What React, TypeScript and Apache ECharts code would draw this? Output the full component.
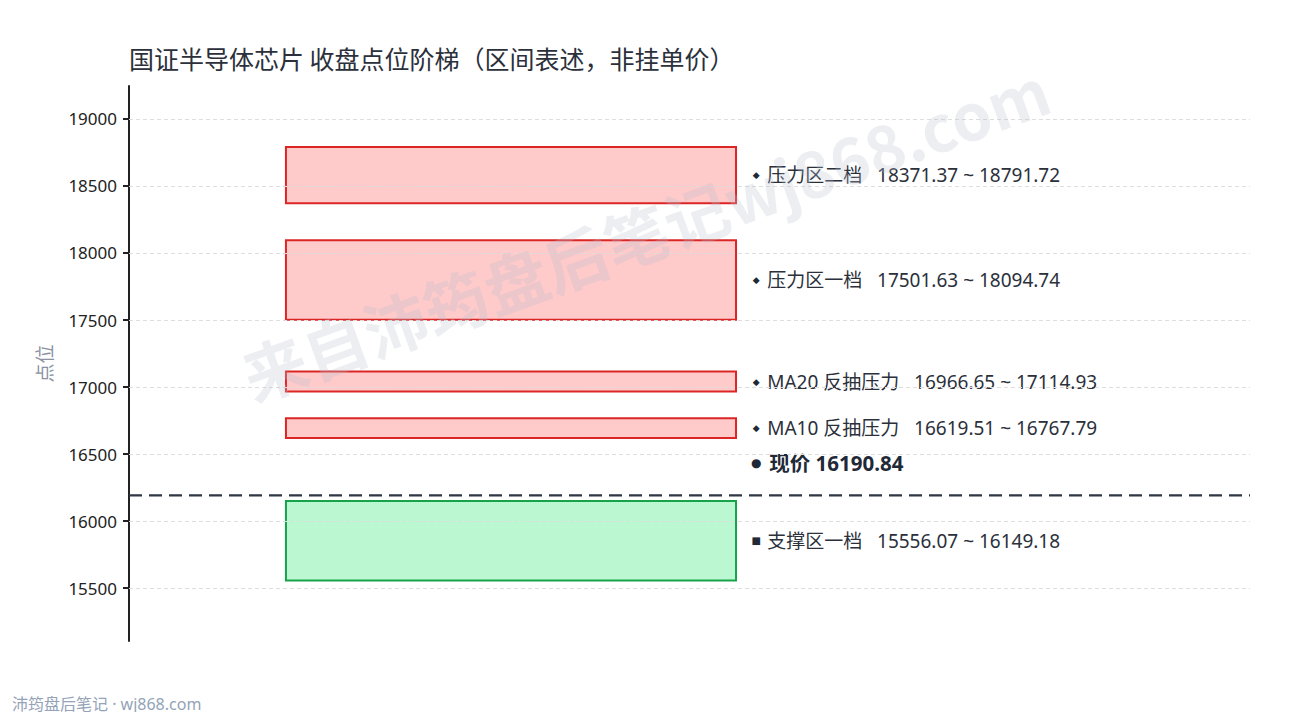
import React from 'react';
import * as echarts from 'echarts';

const zoneNames = ['压力区二档', '压力区一档', 'MA20 反抽压力', 'MA10 反抽压力', '支撑区一档'];
const zoneLow = [18371.37, 17501.63, 16966.65, 16619.51, 15556.07];
const zoneHigh = [18791.72, 18094.74, 17114.93, 16767.79, 16149.18];
const zoneKind = ['resist', 'resist', 'resist', 'resist', 'support'];
const currentPrice = 16190.84;
const tickValues = [15500, 16000, 16500, 17000, 17500, 18000, 18500, 19000];
const yMin = 15105;
const yMax = 19246;

const CJK = '"Noto Sans CJK SC", "Noto Sans", sans-serif';
const MIXED = '"Noto Sans", "Noto Sans CJK SC", sans-serif';

const App: React.FC = () => {
  const chartRef = React.useRef<HTMLDivElement>(null);

  React.useEffect(() => {
    if (!chartRef.current) return;
    const chart = echarts.init(chartRef.current, undefined, { renderer: 'svg' });

    const zoneData = zoneNames.map((name, i) => [i, zoneLow[i], zoneHigh[i]]);

    chart.setOption({
      animation: false,
      backgroundColor: '#ffffff',
      textStyle: { fontFamily: MIXED },
      title: {
        text: '国证半导体芯片 收盘点位阶梯（区间表述，非挂单价）',
        left: 124,
        top: 40,
        textStyle: { fontSize: 25, fontWeight: 'normal', color: '#2b303b', fontFamily: CJK },
      },
      grid: { left: 129, right: 40, top: 86, bottom: 79 },
      xAxis: { type: 'value', min: 0, max: 1, show: false },
      yAxis: {
        type: 'value',
        min: yMin,
        max: yMax,
        name: '点位',
        nameLocation: 'middle',
        nameGap: 76,
        nameTextStyle: { fontSize: 19, color: '#8b93a3', fontFamily: CJK },
        axisLine: { show: true, onZero: false, lineStyle: { color: '#222222', width: 2 } },
        axisTick: { show: true, length: 6, lineStyle: { color: '#222222', width: 2 }, customValues: tickValues },
        axisLabel: {
          color: '#222222',
          fontSize: 17,
          margin: 12,
          customValues: tickValues,
          fontFamily: MIXED,
          formatter: (v: number) => String(v),
        },
        splitLine: { show: false },
      },
      graphic: [
        {
          type: 'text',
          left: 12,
          top: 696,
          style: { text: '沛筠盘后笔记 · wj868.com', fill: '#94a3b8', fontSize: 16, fontFamily: MIXED },
        },
        {
          type: 'text',
          x: 645,
          y: 231,
          rotation: (20 * Math.PI) / 180,
          z: 100,
          silent: true,
          style: {
            text: '来自沛筠盘后笔记wj868.com',
            fill: 'rgba(185, 192, 208, 0.27)',
            fontSize: 64,
            fontWeight: 'bold',
            fontFamily: CJK,
            align: 'center',
            verticalAlign: 'middle',
          },
        },
      ],
      series: [
        {
          type: 'line',
          data: [],
          z: 1,
          silent: true,
          markLine: {
            symbol: 'none',
            silent: true,
            label: { show: false },
            lineStyle: { color: '#dddddd', type: [4, 3], width: 1 },
            data: tickValues.map((v) => ({ yAxis: v })),
          },
        },
        {
          type: 'custom',
          z: 3,
          data: zoneData,
          renderItem: (params: any, api: any) => {
            const i = api.value(0);
            const lo = api.value(1);
            const hi = api.value(2);
            const p1 = api.coord([0.14, hi]);
            const p2 = api.coord([0.5415, lo]);
            const support = zoneKind[i] === 'support';
            const midY = (p1[1] + p2[1]) / 2;
            const lx = api.coord([0.5595, lo])[0];
            return {
              type: 'group',
              children: [
                {
                  type: 'rect',
                  shape: { x: p1[0], y: p1[1], width: p2[0] - p1[0], height: p2[1] - p1[1] },
                  style: {
                    fill: support ? '#bbf7d0' : '#fecaca',
                    stroke: support ? '#16a34a' : '#dc2626',
                    lineWidth: 2,
                  },
                },
                {
                  type: 'text',
                  x: lx,
                  y: midY,
                  style: {
                    text: support ? '■' : '◆',
                    fontSize: support ? 10 : 9,
                    fill: '#1f2937',
                    align: 'center',
                    verticalAlign: 'middle',
                    fontFamily: 'DejaVu Sans',
                  },
                },
                {
                  type: 'text',
                  x: lx + 11,
                  y: midY,
                  style: {
                    text: `${zoneNames[i]}   ${zoneLow[i].toFixed(2)} ~ ${zoneHigh[i].toFixed(2)}`,
                    fontSize: 19,
                    fill: '#2b303b',
                    align: 'left',
                    verticalAlign: 'middle',
                    fontFamily: MIXED,
                  },
                },
              ],
            };
          },
        },
        {
          type: 'custom',
          z: 4,
          data: [[currentPrice]],
          renderItem: (params: any, api: any) => {
            const price = api.value(0);
            const left = api.coord([0, price]);
            const right = api.coord([1, price]);
            const lx = api.coord([0.5595, price])[0];
            return {
              type: 'group',
              children: [
                {
                  type: 'line',
                  shape: { x1: left[0], y1: left[1], x2: right[0], y2: right[1] },
                  style: { stroke: '#2f3744', lineWidth: 2.2, lineDash: [13, 7] },
                },
                {
                  type: 'text',
                  x: lx,
                  y: left[1] - 32,
                  style: {
                    text: '●',
                    fontSize: 12,
                    fill: '#1f2937',
                    align: 'center',
                    verticalAlign: 'middle',
                    fontFamily: 'DejaVu Sans',
                  },
                },
                {
                  type: 'text',
                  x: lx + 13,
                  y: left[1] - 32,
                  style: {
                    text: `现价 ${price.toFixed(2)}`,
                    fontSize: 20.5,
                    fontWeight: 'bold',
                    fill: '#1f2937',
                    align: 'left',
                    verticalAlign: 'middle',
                    fontFamily: MIXED,
                  },
                },
              ],
            };
          },
        },
      ],
    });

    return () => {
      chart.dispose();
    };
  }, []);

  return <div ref={chartRef} style={{ width: 1290, height: 720, margin: -8 }} />;
};

export default App;
